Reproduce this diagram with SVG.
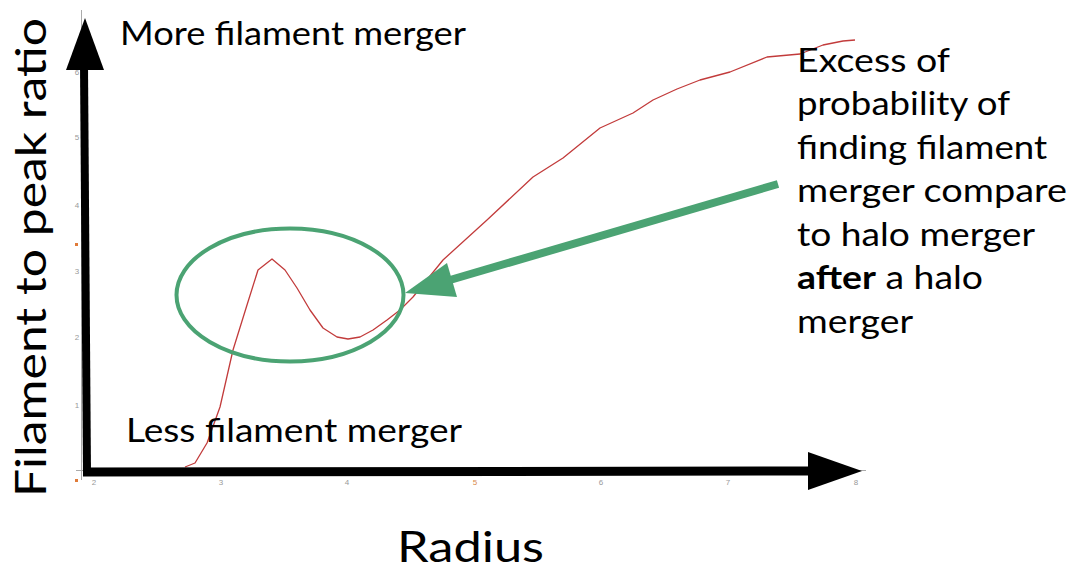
<svg xmlns="http://www.w3.org/2000/svg" width="1072" height="571" viewBox="0 0 1072 571">
<style>
.lbl{font-family:Lato,"Liberation Sans",sans-serif;fill:#000}
.ann{font-family:Lato,"Liberation Sans",sans-serif;fill:#000;font-size:33px}
.tick{font-family:"Liberation Sans",sans-serif;font-size:8px;fill:#999}
.grid{stroke:#aaa;stroke-width:1;fill:none}
.green{stroke:#4ba373;fill:none}
</style>
<rect width="1072" height="571" fill="#fff"/>
<g id="plot-frame">
<line class="grid" x1="81.5" y1="10" x2="81.5" y2="480"/>
<line class="grid" x1="76" y1="470.5" x2="866" y2="470.5"/>
<g class="tick" text-anchor="middle">
<text x="77" y="75">6</text><text x="77" y="140">5</text><text x="77" y="208">4</text>
<text x="77" y="274">3</text><text x="77" y="340">2</text><text x="77" y="408">1</text>
<text x="94" y="485">2</text><text x="221" y="485">3</text><text x="347" y="485">4</text>
<text x="475" y="485" fill="#d98a4a">5</text><text x="601" y="485">6</text><text x="728" y="485">7</text><text x="856" y="485">8</text>
</g>
<g fill="#e07b39">
<rect x="75" y="243" width="3" height="3"/><rect x="75" y="479" width="3" height="3"/>
</g>
</g>
<g id="curve">
<polyline fill="none" stroke="#c23b3b" stroke-width="1.3" stroke-linejoin="round" points="185,467 195,463 207,443 220,407 233,350 247,305 258,270 272,259 285,270 297,288 310,310 323,328 337,337 348,339 360,337 373,330 387,320 400,310 413,297 443,260 487,220 533,177 563,158 600,128 633,113 653,100 677,89 700,80 730,72 767,57 800,54 823,45 843,41 855,40"/>
</g>
<g id="axes">
<line x1="84" y1="66" x2="87" y2="474" stroke="#000" stroke-width="8"/>
<polygon points="66,70 85,18 104,70" fill="#000"/>
<line x1="83" y1="472" x2="812" y2="471" stroke="#000" stroke-width="9"/>
<polygon points="808,452 862,471 808,490" fill="#000"/>
</g>
<g id="highlight-ellipse">
<ellipse class="green" cx="290" cy="295" rx="113.5" ry="66.5" stroke-width="4"/>
</g>
<g id="connectors">
<line class="green" x1="778" y1="184" x2="450" y2="280" stroke-width="8"/>
<polygon points="405,293 447,263 457,297" fill="#4ba373"/>
</g>
<g id="labels">
<text class="lbl" x="120" y="45" font-size="33" textLength="346" lengthAdjust="spacingAndGlyphs">More filament merger</text>
<text class="lbl" x="126" y="442" font-size="33" textLength="336" lengthAdjust="spacingAndGlyphs">Less filament merger</text>
<text class="lbl" x="397" y="562" font-size="42" textLength="147" lengthAdjust="spacingAndGlyphs">Radius</text>
<text class="lbl" transform="translate(46,497) rotate(-90)" font-size="43" textLength="479" lengthAdjust="spacingAndGlyphs">Filament to peak ratio</text>
</g>
<g id="annotation">
<text class="ann" x="797" y="72" textLength="153" lengthAdjust="spacingAndGlyphs">Excess of</text>
<text class="ann" x="797" y="115" textLength="213" lengthAdjust="spacingAndGlyphs">probability of</text>
<text class="ann" x="797" y="159" textLength="250" lengthAdjust="spacingAndGlyphs">finding filament</text>
<text class="ann" x="797" y="202" textLength="270" lengthAdjust="spacingAndGlyphs">merger compare</text>
<text class="ann" x="797" y="246" textLength="238" lengthAdjust="spacingAndGlyphs">to halo merger</text>
<text class="ann" x="797" y="289" textLength="186" lengthAdjust="spacingAndGlyphs"><tspan font-weight="bold">after</tspan> a halo</text>
<text class="ann" x="797" y="333" textLength="116" lengthAdjust="spacingAndGlyphs">merger</text>
</g>
</svg>
